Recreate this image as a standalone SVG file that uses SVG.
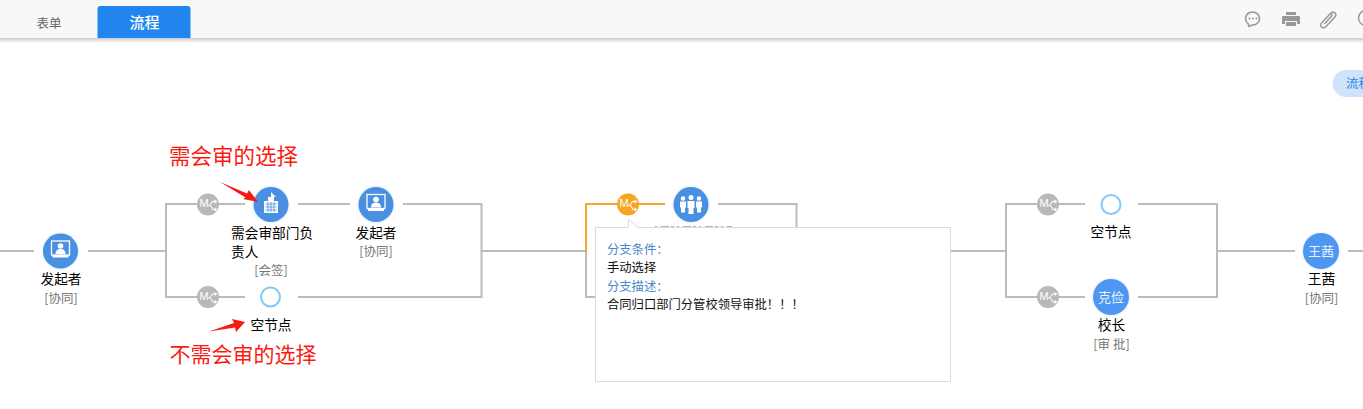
<svg xmlns="http://www.w3.org/2000/svg" width="1363" height="409" viewBox="0 0 1363 409">
<defs>
<style>
text{font-family:"Noto Sans CJK SC","Noto Sans",sans-serif}
.c{fill:none;stroke:#bbb;stroke-width:2}
.o{fill:none;stroke:#f5a623;stroke-width:2}
.n{font-size:13.7px;fill:#000;text-anchor:middle}
.l{font-size:13.7px;fill:#000}
.s{font-size:12.5px;fill:#777;text-anchor:middle}
.r{fill:#fb1a12}
.b{fill:#4a90e2;stroke:#4a90e2;stroke-opacity:.08;stroke-width:3;paint-order:stroke}
.w{fill:#fff}
.h{fill:#4d97f2;stroke:#4d97f2;stroke-opacity:.08;stroke-width:3;paint-order:stroke}
.e{fill:#fff;stroke:#85c8f7;stroke-width:2}
.cap{font-size:13px;fill:#eaf2fc;text-anchor:middle}
.g{font-size:11px;fill:#fff;text-anchor:middle;font-family:"Liberation Sans",sans-serif}
.ic{fill:none;stroke:#fff;stroke-width:1.100}
.tb{fill:none;stroke:#999;stroke-width:1.500}
.bl{font-size:12.300px;fill:#4a86c8}
.bk{font-size:12.300px;fill:#111}
</style>
<linearGradient id="sh" x1="0" y1="0" x2="0" y2="1"><stop offset="0" stop-color="#ccc"/><stop offset="1" stop-color="#fff"/></linearGradient>
<g id="gate"><circle r="11"/><text class="g" x="-4" y="2.500">M</text><path class="ic" d="M0 1h1.500l3-4h2.500M2.500 1l2.500 4h2"/><path class="w" d="M6.500-5l3 2-3 2zM6.500 3l3 2-3 2z"/></g>
<g id="presenter"><rect x="-9" y="-10" width="18" height="14" fill="none" stroke="#fff" stroke-width="1.300"/><circle cy="-5" r="2.800" class="w"/><path class="w" d="M-5 3q0-5 5-5t5 5zM-8 4h16v2.500h-16z"/></g>
</defs>
<rect width="1363" height="409" fill="#fff"/>
<g id="toolbar">
<rect width="1363" height="38" fill="#f8f8f8"/>
<rect y="38" width="1363" height="5" fill="url(#sh)"/>
<text x="49" y="28" font-size="12.500" fill="#666" text-anchor="middle">表单</text>
<path d="M97.500 38V9q0-3 3-3h87q3 0 3 3v29z" fill="#2085ee"/>
<text x="144.500" y="28" font-size="15" font-weight="500" fill="#fff" text-anchor="middle">流程</text>
<g class="tb">
<path d="M1248 23.500a7 6.500 0 1 1 4 1.500l-3 1.500z"/>
<path d="M1322.500 22l8-8.500q2.500-2.500 4.500-.5t-.5 4.500l-8.500 9q-2.500 2.500-4.500.5t.5-4.500l7.500-8q1-1 2-.2t0 2l-7 7.500"/>
<circle cx="1366" cy="18" r="7.500"/>
</g>
<circle cx="1249.500" cy="18.500" r="1" fill="#999"/><circle cx="1253" cy="18.500" r="1" fill="#999"/><circle cx="1256.500" cy="18.500" r="1" fill="#999"/>
<path fill="#999" d="M1286 12h10v3h-10zM1283 16h16q1 0 1 1v7h-3v-3h-12v3h-3v-7q0-1 1-1zM1286 22h10v4h-10z"/>
<path d="M1346 70h17v27h-17a13.500 13.500 0 0 1 0-27z" fill="#cfe4fb"/>
<text x="1346" y="88" font-size="12.500" fill="#2b86ea">流程</text>
</g>
<g id="connectors">
<path class="c" d="M0 251H34M88 251H166M166 204V298M165 204H245M298 204H350M403 204H481.500V297H298M165 297H245M481 251H586"/>
<path class="c" d="M586 251V297H600M718 204H796.500V240M940 251H1006M1006 204V298M1005 204H1085M1005 297H1085M1138 204H1217V297H1138M1217 251H1295M1348 251H1363"/>
<path class="o" d="M586 252V204H665"/>
</g>
<g id="gate1"><use href="#gate" x="208" y="204.500" fill="#b8b8b8"/></g>
<g id="gate2"><use href="#gate" x="208" y="297" fill="#b8b8b8"/></g>
<g id="gate3"><use href="#gate" x="628" y="204.500" fill="#f5a623"/></g>
<g id="gate4"><use href="#gate" x="1048" y="204.500" fill="#b8b8b8"/></g>
<g id="gate5"><use href="#gate" x="1048" y="297" fill="#b8b8b8"/></g>
<g id="node-start"><circle class="b" cx="60.500" cy="251" r="17.500"/><use href="#presenter" x="60.500" y="251"/><text class="n" x="61" y="284">发起者</text><text class="s" x="61" y="303">[协同]</text></g>
<g id="node-dept"><circle class="b" cx="271" cy="204.500" r="17.500"/><path class="w" d="M264 201h4v-4h3v-5l5 5h-2v4h4v12h-14z"/><path d="M265.500 204h11M265.500 207h11M265.500 210h11M268 202v10M271 202v10M274 202v10" stroke="#4a90e2" stroke-width=".8" fill="none"/><text class="l" x="231" y="238">需会审部门负</text><text class="l" x="231" y="257">责人</text><text class="s" x="271" y="275">[会签]</text></g>
<g id="node-sponsor"><circle class="b" cx="376" cy="204.500" r="17.500"/><use href="#presenter" x="376" y="204.500"/><text class="n" x="376" y="238">发起者</text><text class="s" x="376" y="256">[协同]</text></g>
<g id="node-empty1"><circle class="e" cx="270.500" cy="297" r="9.500"/><text class="n" x="271" y="330">空节点</text></g>
<g id="node-group"><circle class="b" cx="691" cy="204.500" r="17.500"/><g class="w"><circle cx="691" cy="197.500" r="2.500"/><path d="M687.500 201h7v7h-1v6h-5v-6h-1z"/><circle cx="683" cy="198.500" r="2.200"/><path d="M680 201.500h6v6h-1v5h-4v-5h-1z"/><circle cx="699" cy="198.500" r="2.200"/><path d="M696 201.500h6v6h-1v5h-4v-5h-1z"/></g><path d="M655 227H732" stroke="#666" stroke-width="1" stroke-dasharray="2 4 8 2 3 3"/></g>
<g id="popup"><path d="M595.500 227.500H628.500V219L638 227.500H950.500V381.500H595.500Z" fill="#fff" stroke="#d5dbe8"/>
<text class="bl" x="607" y="254">分支条件：</text><text class="bk" x="607" y="272">手动选择</text><text class="bl" x="607" y="291">分支描述：</text><text class="bk" x="607" y="309">合同归口部门分管校领导审批！！！</text></g>
<g id="node-empty2"><circle class="e" cx="1111" cy="204.500" r="9.500"/><text class="n" x="1111" y="237">空节点</text></g>
<g id="node-head"><circle class="h" cx="1111" cy="297" r="18"/><text class="cap" x="1111" y="302">克俭</text><text class="n" x="1111.500" y="330">校长</text><text class="s" x="1111.500" y="349">[审 批]</text></g>
<g id="node-wang"><circle class="h" cx="1321" cy="251" r="18"/><text class="cap" x="1321" y="256">王茜</text><text class="n" x="1321.500" y="284">王茜</text><text class="s" x="1321.500" y="303">[协同]</text></g>
<g id="annotations">
<text class="r" font-size="21.500" x="169" y="164">需会审的选择</text>
<text class="r" font-size="21" x="169.500" y="362">不需会审的选择</text>
<path class="r" d="M220 182L247 193.500L249 190L258 202L243 199L245.500 197.500Z"/>
<path class="r" d="M209 331.500L234 323L232 319L245 322L236 332L235 327.500Z"/>
</g>
</svg>
